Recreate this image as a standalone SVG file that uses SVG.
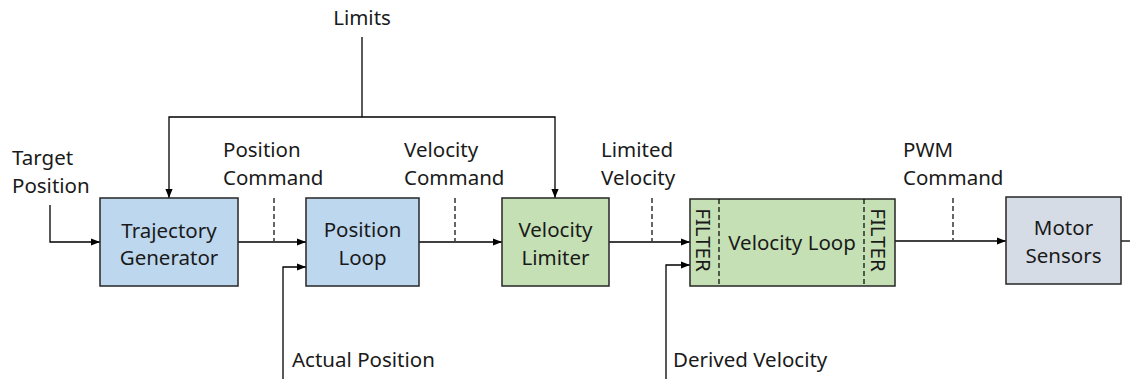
<svg xmlns="http://www.w3.org/2000/svg" width="1130" height="379" viewBox="0 0 1130 379">
  <defs>
    <marker id="arrow" viewBox="0 0 10 10" refX="10" refY="5" markerWidth="9" markerHeight="9" markerUnits="userSpaceOnUse" orient="auto">
      <path d="M0,1 L10,5 L0,9 Z" fill="#000"/>
    </marker>
  </defs>
  <style>
    text { font-family: "Noto Sans", "Open Sans", sans-serif; font-size: 20.5px; fill: #1a1a1a; }
    .mid { text-anchor: middle; }
    .box { stroke: #262626; stroke-width: 1.5; }
    .blue { fill: #BDD7EE; }
    .green { fill: #C5E0B4; }
    .grey { fill: #D6DCE5; }
    .wire { fill: none; stroke: #000; stroke-width: 1.3; }
    .arr { marker-end: url(#arrow); }
    .tick { fill: none; stroke: #000; stroke-width: 1.2; stroke-dasharray: 5 3; }
  </style>

  <!-- signal labels -->
  <g id="labels">
    <text x="362" y="25" class="mid">Limits</text>
    <text x="12" y="165">Target</text>
    <text x="12" y="193">Position</text>
    <text x="223" y="157">Position</text>
    <text x="223" y="185">Command</text>
    <text x="404" y="157">Velocity</text>
    <text x="404" y="185">Command</text>
    <text x="601" y="157">Limited</text>
    <text x="601" y="185">Velocity</text>
    <text x="903" y="157">PWM</text>
    <text x="903" y="185">Command</text>
    <text x="292" y="367">Actual Position</text>
    <text x="673" y="367">Derived Velocity</text>
  </g>

  <!-- connectors -->
  <g id="connectors">
    <path class="wire" d="M362,37 V117"/>
    <path class="wire arr" d="M362,117 H169 V198"/>
    <path class="wire arr" d="M362,117 H555 V198"/>
    <path class="wire arr" d="M50,205 V242 H100"/>
    <path class="wire arr" d="M238,242 H306"/>
    <path class="wire arr" d="M419,242 H502"/>
    <path class="wire arr" d="M609,242 H690"/>
    <path class="wire arr" d="M895,241 H1006"/>
    <path class="wire" d="M1121,241 H1130"/>
    <path class="wire arr" d="M283,379 V267 H306"/>
    <path class="wire arr" d="M666,379 V265 H690"/>
    <!-- dashed signal ticks -->
    <path class="tick" d="M274,198 V241"/>
    <path class="tick" d="M455,198 V241"/>
    <path class="tick" d="M652,198 V241"/>
    <path class="tick" d="M953,198 V240"/>
  </g>

  <g id="trajectory-generator">
    <rect class="box blue" x="100" y="198" width="138" height="88"/>
    <text x="169" y="238" class="mid">Trajectory</text>
    <text x="169" y="265" class="mid">Generator</text>
  </g>

  <g id="position-loop">
    <rect class="box blue" x="306" y="198" width="113" height="88"/>
    <text x="362.5" y="237" class="mid">Position</text>
    <text x="362.5" y="265" class="mid">Loop</text>
  </g>

  <g id="velocity-limiter">
    <rect class="box green" x="502" y="198" width="107" height="88"/>
    <text x="555.5" y="237" class="mid">Velocity</text>
    <text x="555.5" y="265" class="mid">Limiter</text>
  </g>

  <g id="velocity-loop">
    <rect class="box green" x="690" y="199" width="205" height="87"/>
    <path class="tick" d="M719,199 V286"/>
    <path class="tick" d="M864,199 V286"/>
    <text x="792" y="250" class="mid">Velocity Loop</text>
    <text class="mid" dominant-baseline="central" transform="translate(704,240) rotate(90)">FILTER</text>
    <text class="mid" dominant-baseline="central" transform="translate(879,240) rotate(90)">FILTER</text>
  </g>

  <g id="motor-sensors">
    <rect class="box grey" x="1006" y="197" width="115" height="87"/>
    <text x="1063.5" y="235" class="mid">Motor</text>
    <text x="1063.5" y="263" class="mid">Sensors</text>
  </g>
</svg>
